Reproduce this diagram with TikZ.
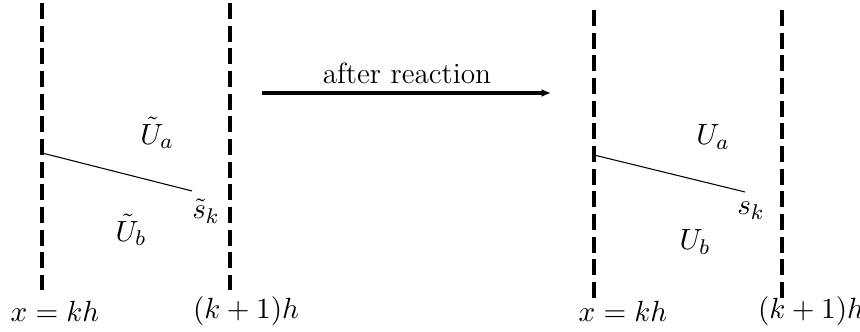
\documentclass[tikz,border=0pt]{standalone}
\usepackage{amsmath,amssymb}
\usepackage{tikz}
\usetikzlibrary{positioning,arrows.meta}

\begin{document}
\begin{tikzpicture}[
    x=0.375pt, y=-0.375pt,
    font=\fontsize{11pt}{13pt}\selectfont,
    wall/.style={line width=1.5pt, dash pattern=on 6pt off 2.5pt},
    front/.style={line width=0.4pt},
    line/.style={-{Latex[length=3.5pt,width=3pt]}, line width=1.25pt},
    lbl/.style={inner sep=0pt}
]
\useasboundingbox (0,0) rectangle (860,332);

% before reaction
\coordinate (lt) at (42,3);
\coordinate (lb) at (42,290);
\coordinate (rt) at (230,3);
\coordinate (rb) at (230,290);
\coordinate (fa) at (42,153);
\coordinate (fb) at (192,191);
\draw[wall] (lt) -- (lb);
\draw[wall] (rt) -- (rb);
\draw[front] (fa) -- (fb);
\node[lbl] (ua) at (157,133) {$\tilde{U}_a$};
\node[lbl] (ub) at (131,230) {$\tilde{U}_b$};
\node[lbl] (sk) at (206,211) {$\tilde{s}_k$};
\node[lbl] (xl) at (55,311) {$x=kh$};
\node[lbl] (xr) at (246,311) {$(k+1)h$};

% arrow
\coordinate (as) at (262,93);
\coordinate (ae) at (551,93);
\draw[line] (as) -- (ae);
\node[lbl] (ar) at (407,73) {after reaction};

% after reaction
\coordinate (Lt) at (594,10);
\coordinate (Lb) at (594,298);
\coordinate (Rt) at (782,10);
\coordinate (Rb) at (782,298);
\coordinate (Fa) at (594,155);
\coordinate (Fb) at (745,192);
\draw[wall] (Lt) -- (Lb);
\draw[wall] (Rt) -- (Rb);
\draw[front] (Fa) -- (Fb);
\node[lbl] (Ua) at (713,137) {$U_a$};
\node[lbl] (Ub) at (695,242) {$U_b$};
\node[lbl] (Sk) at (751,211) {$s_k$};
\node[lbl] (Xl) at (623,311) {$x=kh$};
\node[lbl] (Xr) at (811,311) {$(k+1)h$};

\end{tikzpicture}
\end{document}
